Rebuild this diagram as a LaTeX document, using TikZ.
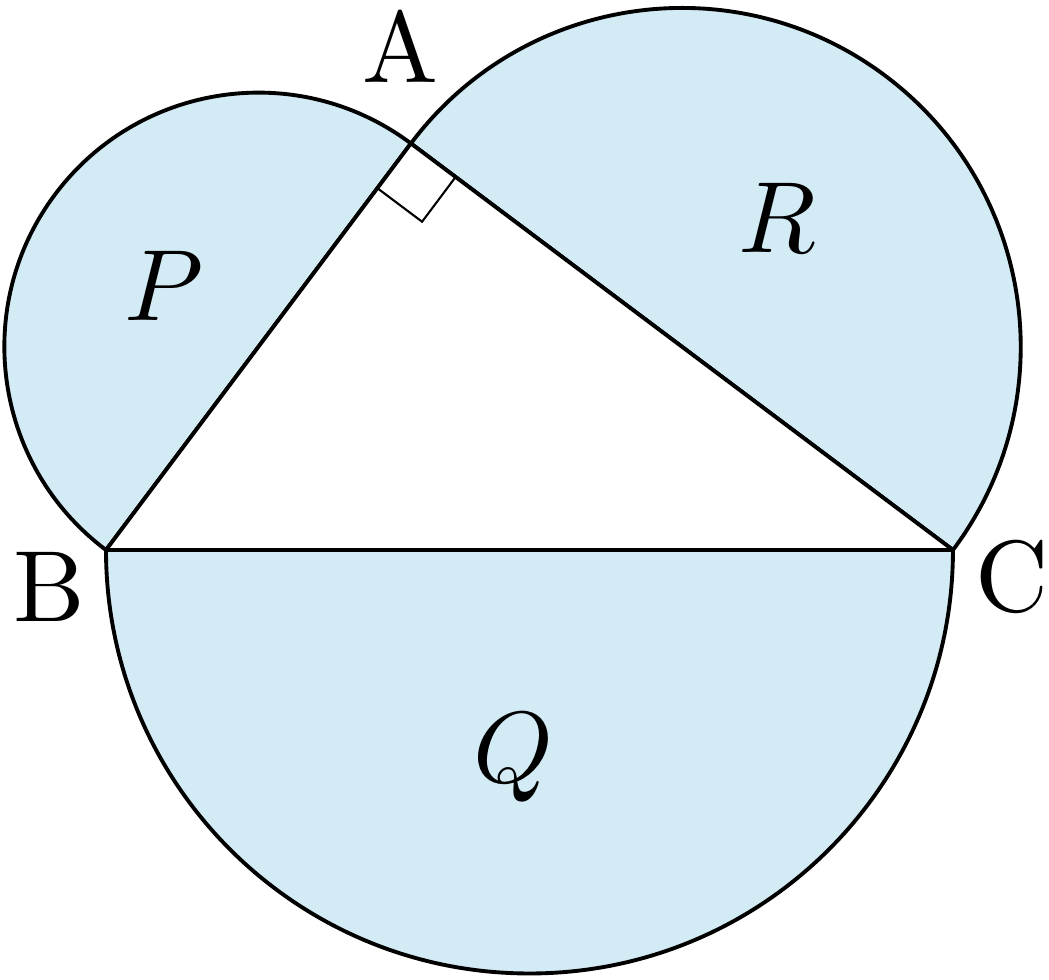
\documentclass[tikz,border=0pt]{standalone}
\usetikzlibrary{calc}
\definecolor{shade}{RGB}{211,235,244}
\font\labrm=cmr10 at 34pt
\font\labmi=cmmi10 at 34pt
\begin{document}
\begin{tikzpicture}[x=2cm,y=2cm,
  edge/.style={line width=1.3pt, line join=round},
  region/.style={fill=shade, draw=black, line width=1.3pt, line join=round},
  anglemark/.style={line width=0.7pt},
  vlab/.style={font=\labrm, inner sep=0pt},
  mlab/.style={font=\labmi, inner sep=0pt}]
\useasboundingbox (-0.6257,-2.538) rectangle (5.567,3.2468);
\coordinate (B) at (0,0);
\coordinate (C) at (5,0);
\coordinate (A) at (1.8,2.4);
% semicircles
\draw[region] (A) arc[start angle=53.13, end angle=233.13, radius=1.5] -- cycle;
\draw[region] (C) arc[start angle=-36.87, end angle=143.13, radius=2] -- cycle;
\draw[region] (C) arc[start angle=0, end angle=-180, radius=2.5] -- cycle;
% triangle
\fill[white] (A) -- (B) -- (C) -- cycle;
\draw[edge] (A) -- (B) -- (C) -- cycle;
% right angle mark
\coordinate (u) at ($(A)!0.11!(B)$);
\coordinate (v) at ($(A)!0.0825!(C)$);
\coordinate (w) at ($(u)+(v)-(A)$);
\draw[anglemark] (u) -- (w) -- (v);
% labels
\node[vlab] (lA) at (1.739,2.966) {A};
\node[vlab] (lB) at (-0.3335,-0.2155) {B};
\node[vlab] (lC) at (5.351,-0.156) {C};
\node[mlab] (lP) at (0.3017,1.561) {P};
\node[mlab] (lR) at (3.961,1.960) {R};
\node[mlab] (lQ) at (2.403,-1.225) {Q};
\end{tikzpicture}
\end{document}
